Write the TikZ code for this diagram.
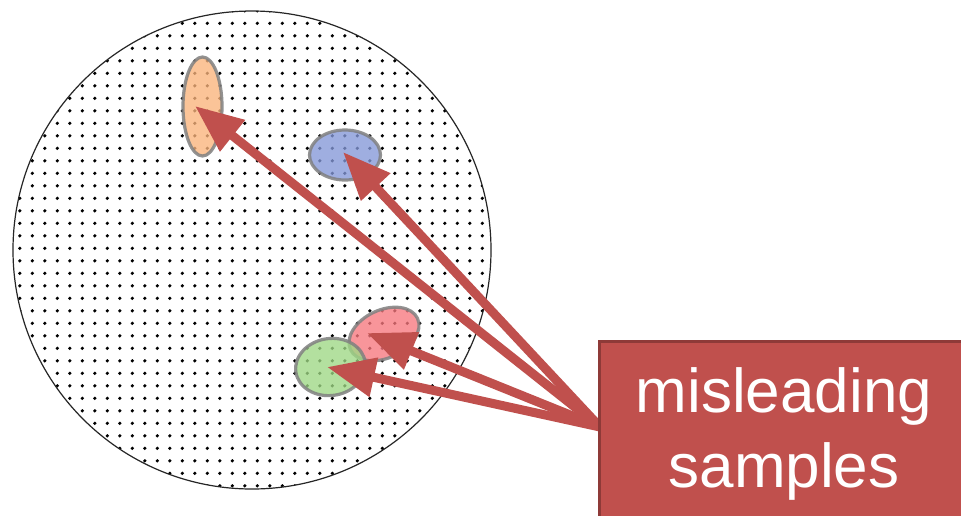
\documentclass[tikz,border=0pt]{standalone}
\usepackage{fontspec}
\setmainfont{Liberation Sans}
\usetikzlibrary{arrows.meta,shapes.geometric}
\definecolor{boxred}{HTML}{C0504D}
\definecolor{boxdark}{HTML}{8E3A38}
\definecolor{orangefill}{HTML}{FAB47C}
\definecolor{bluefill}{HTML}{8498D8}
\definecolor{redfill}{HTML}{F7787E}
\definecolor{greenfill}{HTML}{9ED884}
\begin{document}
\begin{tikzpicture}[x=1pt,y=-1pt,
  blob/.style={ellipse, inner sep=0pt, draw=gray, draw opacity=0.85, line width=3.2pt, fill opacity=0.78},
  arr/.style={draw=boxred, line width=9pt, -{Triangle[length=48pt,width=38pt]}},
  labelbox/.style={draw=boxdark, line width=3pt, fill=boxred, inner sep=0pt, anchor=north west, minimum width=390pt, minimum height=210pt},
  labeltext/.style={text=white, font=\fontsize{62}{75}\selectfont, align=center, anchor=north, inner sep=0pt}]
\useasboundingbox (0,0) rectangle (961,515);
\clip (0,0) rectangle (961,515);
\fill[white] (0,0) rectangle (961,515);
% dotted disk
\begin{scope}
  \clip (252,250) circle (239pt);
  \foreach \i in {0,...,39} {
    \foreach \j in {0,...,39} {
      \fill[black] (7.3+12.5*\i, 10.8+12.5*\j) circle (1.8pt);
    }
  }
\end{scope}
\node[circle, draw=black!85, line width=1.2pt, minimum size=478pt, inner sep=0pt] (disk) at (252,250) {};
% samples
\node[blob, fill=orangefill, minimum width=39pt, minimum height=99pt] (orange) at (202.5,106.5) {};
\node[blob, fill=bluefill, minimum width=71pt, minimum height=50pt] (blue) at (345,155) {};
\node[blob, fill=redfill, minimum width=74pt, minimum height=48pt, rotate=25] (red) at (384,334) {};
\node[blob, fill=greenfill, minimum width=70pt, minimum height=57pt, rotate=8] (green) at (330.5,367) {};
% arrow ends
\coordinate (src) at (600,427);
\coordinate (tO) at (195,106);
\coordinate (tB) at (343,152);
\coordinate (tR) at (367,333);
\coordinate (tG) at (327,367);
\draw[arr] (src) -- (tO);
\draw[arr] (src) -- (tB);
\draw[arr] (src) -- (tR);
\draw[arr] (src) -- (tG);
% label box
\node[labelbox] (box) at (598,340) {};
\node[labeltext] (lbl) at (784,367.6) {misleading\\samples};
\end{tikzpicture}
\end{document}
